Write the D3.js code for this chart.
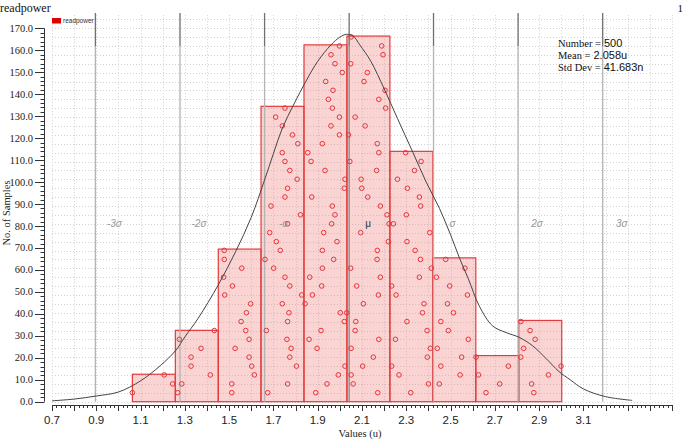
<!DOCTYPE html>
<html>
<head>
<meta charset="utf-8">
<script src="https://cdn.jsdelivr.net/npm/d3@7"></script>
<style>
  body { margin: 0; background: #fff; }
  svg { display: block; }
</style>
</head>
<body>
<svg id="chart" width="685" height="440"></svg>
<script>
// histogram bins (values in u) and bar heights
const binEdges = [1.063, 1.257, 1.451, 1.644, 1.838, 2.032, 2.226, 2.420, 2.614, 2.808, 3.002];
const binCounts = [12.5, 32.5, 69.5, 134.5, 162.5, 166.5, 114, 65.5, 21, 37];

// sample markers [value, level]
const samplePoints = [
  [1.063,4.1],[1.207,12.2],[1.245,8.1],[1.268,4.1],[1.286,8.1],[1.275,28.4],[1.328,20.3],[1.328,16.2],[1.373,24.3],[1.415,12.2],[1.433,32.4],
  [1.478,68.9],[1.478,64.8],[1.475,56.7],[1.515,52.7],[1.480,48.6],[1.557,60.8],[1.597,44.6],[1.578,40.5],[1.554,36.5],[1.575,32.4],[1.590,28.4],[1.527,24.3],[1.590,20.3],[1.602,16.2],[1.614,12.2],[1.512,8.1],[1.512,4.1],
  [1.662,64.8],[1.683,77.0],[1.713,72.9],[1.731,68.9],[1.701,60.8],[1.764,81.0],[1.752,56.7],[1.774,52.7],[1.822,85.1],[1.828,48.6],[1.740,44.6],[1.770,40.5],[1.764,36.5],[1.668,32.4],[1.761,28.4],[1.780,24.3],[1.774,20.3],[1.804,16.2],[1.764,8.1],[1.674,4.1],
  [1.978,85.1],[1.963,81.0],[1.927,77.0],[1.987,72.9],[1.921,68.9],[1.972,64.8],[1.921,60.8],[1.864,56.7],[1.918,52.7],[1.876,48.6],[1.843,44.6],[2.002,40.5],[2.031,40.5],[2.020,36.5],[1.915,32.4],[1.861,28.4],[1.897,24.3],[2.023,16.2],[1.993,12.2],[1.942,8.1],[1.891,4.1],
  [1.752,133.7],[1.710,129.6],[1.740,125.6],[1.786,121.5],[1.810,117.5],[1.740,113.4],[1.752,109.4],[1.774,105.3],[1.807,101.3],[1.764,97.2],[1.752,93.2],[1.689,89.1],
  [1.998,162.0],[1.960,158.0],[1.978,153.9],[2.011,149.9],[1.936,145.8],[1.969,141.8],[1.948,137.7],[1.966,133.7],[1.998,129.6],[1.960,125.6],[1.998,121.5],[1.921,117.5],[1.855,113.4],[1.870,109.4],[1.933,105.3],[2.023,101.3],[2.020,97.2],[1.873,93.2],[1.966,89.1],
  [2.051,166.1],[2.189,162.0],[2.195,158.0],[2.049,153.9],[2.124,149.9],[2.109,145.8],[2.204,141.8],[2.176,137.7],[2.207,133.7],[2.069,129.6],[2.114,125.6],[2.039,121.5],[2.169,117.5],[2.176,113.4],[2.045,109.4],[2.166,105.3],[2.096,101.3],[2.099,97.2],[2.126,93.2],[2.183,89.1],
  [2.297,113.4],[2.367,109.4],[2.337,105.3],[2.260,101.3],[2.305,97.2],[2.359,93.2],[2.365,89.1],
  [2.213,85.1],[2.300,85.1],[2.222,81.0],[2.242,81.0],[2.094,77.0],[2.406,77.0],[2.219,72.9],[2.303,72.9],[2.169,68.9],[2.340,68.9],
  [2.168,64.8],[2.364,64.8],[2.478,64.8],[2.049,60.8],[2.413,60.8],[2.565,60.8],[2.183,56.7],[2.359,56.7],[2.436,56.7],
  [2.076,52.7],[2.234,52.7],[2.496,52.7],[2.174,48.6],[2.254,48.6],[2.576,48.6],[2.106,44.6],[2.380,44.6],[2.486,44.6],
  [2.373,40.5],[2.513,40.5],[2.072,36.5],[2.303,36.5],[2.456,36.5],[2.817,36.5],[2.069,32.4],[2.394,32.4],[2.490,32.4],[2.859,32.4],
  [2.176,28.4],[2.251,28.4],[2.580,28.4],[2.882,28.4],[2.051,24.3],[2.409,24.3],[2.440,24.3],[2.830,24.3],
  [2.151,20.3],[2.395,20.3],[2.550,20.3],[2.615,20.3],[2.817,20.3],[2.103,16.2],[2.234,16.2],[2.456,16.2],[2.761,16.2],[2.999,16.2],
  [2.051,12.2],[2.267,12.2],[2.543,12.2],[2.626,12.2],[2.942,12.2],[2.060,8.1],[2.400,8.1],[2.449,8.1],[2.722,8.1],[2.866,8.1],
  [2.171,4.1],[2.320,4.1],[2.660,4.1],[2.876,4.1]
];

// density curve
const curvePoints = [
  [0.70,0.4],[0.80,1.2],[0.90,2.6],[1.00,4.4],[1.10,9.5],[1.19,16.5],[1.26,23.5],[1.30,29.5],[1.36,38],[1.45,53],
  [1.53,68.5],[1.60,84],[1.66,101],[1.70,113],[1.74,124.5],[1.79,135],[1.85,146.5],[1.90,155],[1.96,162.5],[2.00,166],
  [2.03,167.3],[2.06,166.5],[2.09,162.5],[2.14,155],[2.20,142.5],[2.26,129],[2.33,113.5],[2.39,100],[2.45,88],[2.50,76],
  [2.54,65.5],[2.58,56],[2.63,43.5],[2.69,34.5],[2.75,31.5],[2.81,29.3],[2.87,25.5],[2.93,19.8],[2.99,13.7],[3.04,10],
  [3.10,5.8],[3.20,2.3],[3.32,0.6]
];

const sigmaLines = [
  { label: "-3σ", value: 0.896 },
  { label: "-2σ", value: 1.278 },
  { label: "-σ", value: 1.660 },
  { label: "μ", value: 2.042 },
  { label: "σ", value: 2.423 },
  { label: "2σ", value: 2.805 },
  { label: "3σ", value: 3.187 }
];

const xTickLabels = [0.7, 0.9, 1.1, 1.3, 1.5, 1.7, 1.9, 2.1, 2.3, 2.5, 2.7, 2.9, 3.1];
const yTickLabels = [0, 10, 20, 30, 40, 50, 60, 70, 80, 90, 100, 110, 120, 130, 140, 150, 160, 170];
const statLines = [["Number =", "500"], ["Mean =", "2.058u"], ["Std Dev =", "41.683n"]];

const serif = "'Liberation Serif', 'DejaVu Serif', serif";
const sans = "'Liberation Sans', Arial, sans-serif";

const svg = d3.select("#chart");
const x = d3.scaleLinear().domain([0.7, 3.5]).range([52, 672]);
const y = d3.scaleLinear().domain([0, 176]).range([401.7, 15.2]);
const axisY = 405;

// grid
const grid = svg.append("g").attr("stroke", "#d2d2d2").attr("stroke-dasharray", "1,2").attr("stroke-width", 1);
grid.selectAll(".vgrid")
    .data(d3.range(7, 36).map(d => d / 10))
    .join("line")
    .attr("class", "vgrid")
    .attr("x1", d => Math.round(x(d)) + 0.5)
    .attr("x2", d => Math.round(x(d)) + 0.5)
    .attr("y1", y(176))
    .attr("y2", y(0));
grid.selectAll(".hgrid")
    .data(d3.range(0, 44).map(i => i * 4.05))
    .join("line")
    .attr("class", "hgrid")
    .attr("x1", x(0.7))
    .attr("x2", x(3.5))
    .attr("y1", d => Math.round(y(d)) + 0.5)
    .attr("y2", d => Math.round(y(d)) + 0.5);

// histogram bars
const bins = binCounts.map((c, i) => ({ x0: binEdges[i], x1: binEdges[i + 1], count: c }));
svg.append("g").selectAll("rect")
    .data(bins)
    .join("rect")
    .attr("x", d => x(d.x0))
    .attr("y", d => y(d.count))
    .attr("width", d => x(d.x1) - x(d.x0))
    .attr("height", d => y(0) - y(d.count))
    .attr("fill", "#f08080")
    .attr("fill-opacity", 0.35)
    .attr("stroke", "#e23b3b")
    .attr("stroke-width", 1.2);

// sigma lines: light body, darker top
const sig = svg.append("g");
sig.selectAll(".sig-body")
    .data(sigmaLines)
    .join("line")
    .attr("x1", d => x(d.value)).attr("x2", d => x(d.value))
    .attr("y1", 46).attr("y2", y(0))
    .attr("stroke", d => d.label === "μ" ? "#8a8a8a" : "#b4b4b4").attr("stroke-width", 1.3);
sig.selectAll(".sig-top")
    .data(sigmaLines)
    .join("line")
    .attr("x1", d => x(d.value)).attr("x2", d => x(d.value))
    .attr("y1", 13).attr("y2", 46)
    .attr("stroke", "#707070").attr("stroke-width", 1.3);
sig.selectAll("text")
    .data(sigmaLines)
    .join("text")
    .attr("x", d => x(d.value) + 19)
    .attr("y", 227)
    .attr("text-anchor", "middle")
    .attr("font-family", sans)
    .attr("font-size", 10)
    .attr("font-style", d => d.label === "μ" ? "normal" : "italic")
    .attr("fill", d => d.label === "μ" ? "#333" : "#9a9a9a")
    .text(d => d.label);

// sample markers
svg.append("g").selectAll("circle")
    .data(samplePoints)
    .join("circle")
    .attr("cx", d => x(d[0]))
    .attr("cy", d => y(d[1]))
    .attr("r", 2.3)
    .attr("fill", "none")
    .attr("stroke", "#e8343a")
    .attr("stroke-width", 1);

// density curve
svg.append("path")
    .datum(curvePoints)
    .attr("d", d3.line().x(d => x(d[0])).y(d => y(d[1])).curve(d3.curveCatmullRom))
    .attr("fill", "none")
    .attr("stroke", "#444")
    .attr("stroke-width", 1);

// x axis
const xa = svg.append("g").attr("stroke", "#333").attr("stroke-width", 1);
xa.append("line").attr("x1", x(0.7)).attr("x2", x(3.5)).attr("y1", axisY + 0.5).attr("y2", axisY + 0.5);
xa.selectAll(".xt")
    .data(d3.range(35, 176).map(d => d / 50))
    .join("line")
    .attr("x1", d => Math.round(x(d)) + 0.5).attr("x2", d => Math.round(x(d)) + 0.5)
    .attr("y1", axisY)
    .attr("y2", (d, i) => axisY + (i % 5 === 0 ? 6 : 3));
svg.append("g").selectAll("text")
    .data(xTickLabels)
    .join("text")
    .attr("x", d => x(d))
    .attr("y", 424)
    .attr("text-anchor", "middle")
    .attr("font-family", sans)
    .attr("font-size", 11.5)
    .attr("fill", "#222")
    .text(d => d.toFixed(1));
svg.append("text")
    .attr("x", 360).attr("y", 437)
    .attr("text-anchor", "middle")
    .attr("font-family", serif).attr("font-size", 10.5).attr("fill", "#222")
    .text("Values (u)");

// y axis
const ya = svg.append("g").attr("stroke", "#333").attr("stroke-width", 1);
ya.append("line").attr("x1", 44.5).attr("x2", 44.5).attr("y1", y(170)).attr("y2", y(0));
ya.selectAll(".yt")
    .data(d3.range(0, 86).map(i => i * 2))
    .join("line")
    .attr("x1", 44.5)
    .attr("x2", d => d % 10 === 0 ? 35 : 40.5)
    .attr("y1", d => Math.round(y(d)) + 0.5)
    .attr("y2", d => Math.round(y(d)) + 0.5);
svg.append("g").selectAll("text")
    .data(yTickLabels)
    .join("text")
    .attr("x", 33)
    .attr("y", d => y(d) + 3.5)
    .attr("text-anchor", "end")
    .attr("font-family", serif)
    .attr("font-size", 10.5)
    .attr("fill", "#222")
    .text(d => d.toFixed(1));
svg.append("text")
    .attr("transform", "translate(10,213) rotate(-90)")
    .attr("text-anchor", "middle")
    .attr("font-family", serif).attr("font-size", 10.5).attr("fill", "#222")
    .text("No. of Samples");

// title, page number, legend
svg.append("text").attr("x", 0).attr("y", 12)
    .attr("font-family", serif).attr("font-size", 12).attr("fill", "#111")
    .text("readpower");
svg.append("text").attr("x", 683).attr("y", 12).attr("text-anchor", "end")
    .attr("font-family", serif).attr("font-size", 11).attr("fill", "#111")
    .text("1");
svg.append("rect").attr("x", 52).attr("y", 18).attr("width", 9).attr("height", 5.5).attr("fill", "#e00000");
svg.append("text").attr("x", 63).attr("y", 23)
    .attr("font-family", sans).attr("font-size", 6.5).attr("fill", "#333")
    .text("readpower");

// statistics box
const st = svg.append("g").selectAll("text")
    .data(statLines)
    .join("text")
    .attr("x", 558)
    .attr("y", (d, i) => 47 + i * 12)
    .attr("fill", "#111");
st.append("tspan").attr("font-family", serif).attr("font-size", 10.5).text(d => d[0]);
st.append("tspan").attr("dx", 3).attr("font-family", sans).attr("font-size", 11).text(d => d[1]);
</script>
</body>
</html>
